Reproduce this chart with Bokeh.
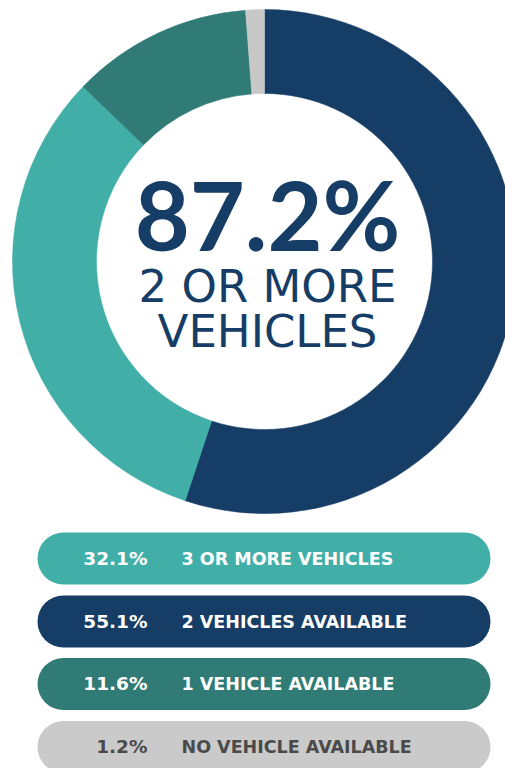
import math
from bokeh.plotting import figure
from bokeh.models import Range1d
from bokeh.core.properties import value
from bokeh.embed import file_html
from bokeh.resources import INLINE

# ---- data ----
ring_labels = ["2 vehicles available", "3 or more vehicles", "1 vehicle available", "No vehicle available"]
ring_shares = [55.1, 32.1, 11.6, 1.2]
ring_colors = ["#163D66", "#41AFA8", "#317B76", "#C8C8C8"]

headline_value = "87.2%"
headline_lines = ["2 OR MORE", "VEHICLES"]

legend_pcts = ["32.1%", "55.1%", "11.6%", "1.2%"]
legend_labels = ["3 OR MORE VEHICLES", "2 VEHICLES AVAILABLE", "1 VEHICLE AVAILABLE", "NO VEHICLE AVAILABLE"]
legend_fill = ["#41AFA8", "#163D66", "#317B76", "#CACACA"]
legend_text_color = ["#FFFFFF", "#FFFFFF", "#FFFFFF", "#4A4A4A"]

W, H = 505, 768
NAVY = "#163D66"

def Y(screen_y):
    # convert picture pixel y (top-down) to data y (bottom-up)
    return H - screen_y

def X(screen_x):
    return screen_x

p = figure(width=W, height=H, x_range=Range1d(0, W), y_range=Range1d(0, H),
           output_backend="svg", toolbar_location=None, min_border=0)
p.axis.visible = False
p.grid.visible = False
p.outline_line_color = None
p.background_fill_color = "white"
p.border_fill_color = "white"

# ---- donut ----
cx, cy = X(264), Y(261)
R_out, R_in = 252, 168
total = sum(ring_shares)
starts, ends = [], []
cum = 0.0
for s in ring_shares:
    starts.append(math.pi / 2 - 2 * math.pi * cum / total)
    cum += s
    ends.append(math.pi / 2 - 2 * math.pi * cum / total)
p.annular_wedge(x=[cx] * 4, y=[cy] * 4, inner_radius=R_in, outer_radius=R_out,
                start_angle=starts, end_angle=ends, direction="clock",
                fill_color=ring_colors, line_color=ring_colors, line_width=0.5)

# ---- center text ----
tx = X(267)
p.text(x=[tx], y=[Y(213)], text=[headline_value], text_font=value("Lato"),
       text_font_style="bold", text_font_size="95px", text_color=NAVY,
       text_align="center", text_baseline="alphabetic")
p.text(x=[tx, tx], y=[Y(285.5), Y(330.5)], text=headline_lines, text_font=value("DejaVu Sans"),
       text_font_size="45px", text_color=NAVY,
       text_align="center", text_baseline="alphabetic")

# ---- legend pills ----
pill_centers = [558, 621, 683.5, 746.5]
pill_h = 52
left, right = X(37), X(490)
p.quad(left=[left] * 4, right=[right] * 4,
       bottom=[Y(c + pill_h / 2) for c in pill_centers],
       top=[Y(c - pill_h / 2) for c in pill_centers],
       fill_color=legend_fill, line_color=None, border_radius=26)

p.text(x=[X(147)] * 4, y=[Y(c - 0.5) for c in pill_centers], text=legend_pcts,
       text_font=value("DejaVu Sans"), text_font_style="bold", text_font_size="18.5px",
       text_color=legend_text_color, text_align="right", text_baseline="alphabetic")
p.text(x=[X(181)] * 4, y=[Y(c) for c in pill_centers], text=legend_labels,
       text_font=value("DejaVu Sans"), text_font_style="bold", text_font_size="17.5px",
       text_color=legend_text_color, text_align="left", text_baseline="alphabetic")

open("out.html", "w").write(file_html(p, INLINE))
